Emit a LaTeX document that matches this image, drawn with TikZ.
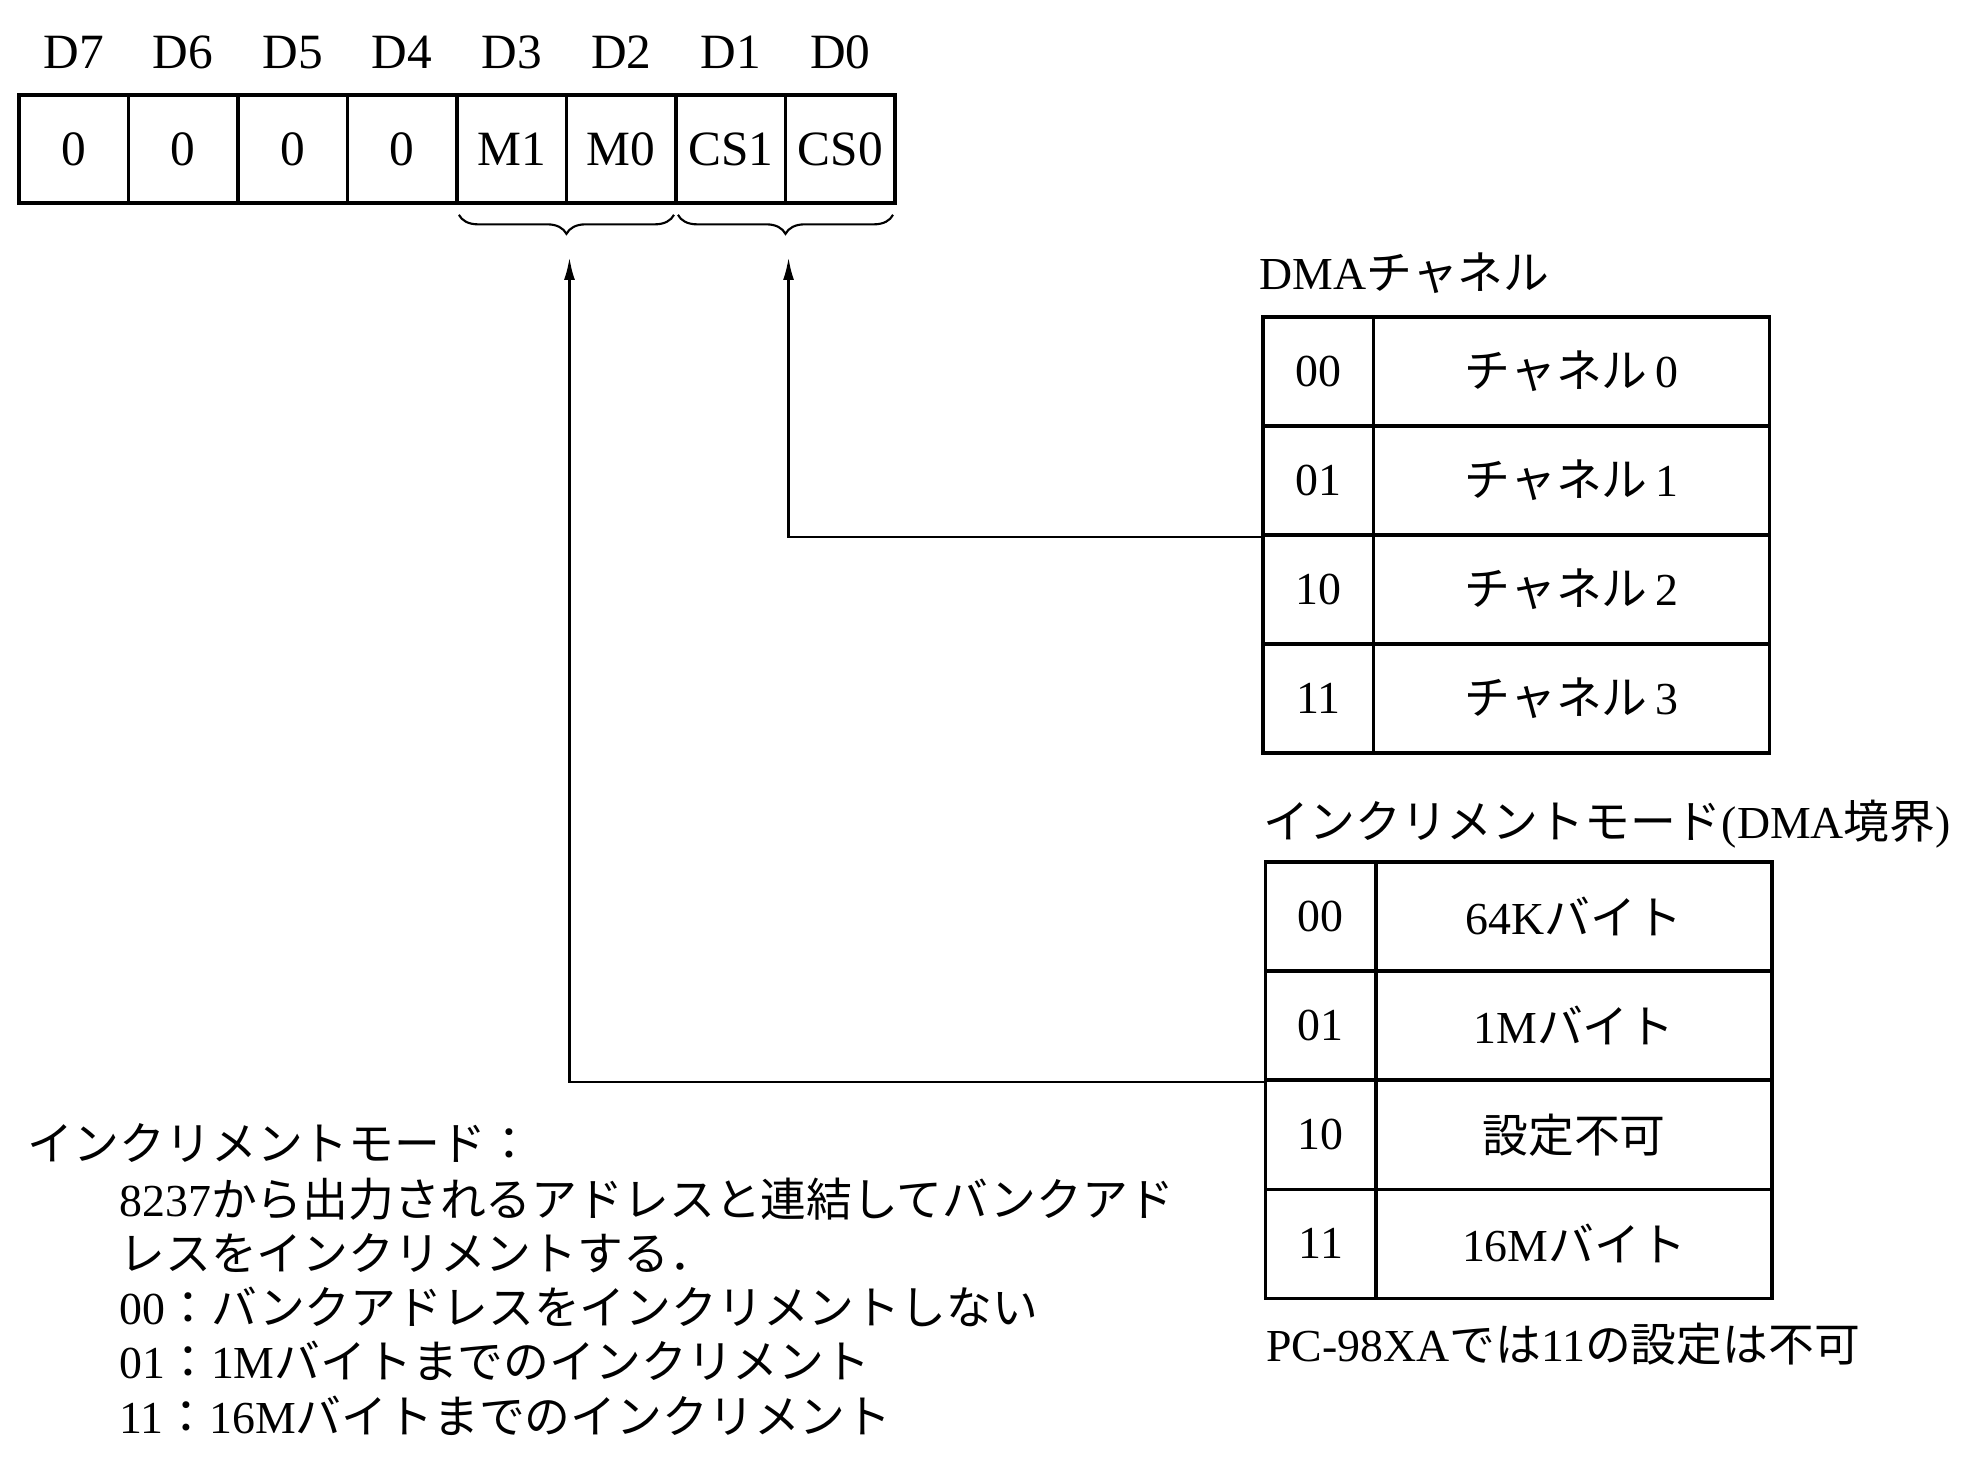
\documentclass[tikz,border=0pt]{standalone}
\usepackage{fontspec}
\setmainfont{Liberation Serif}
\newfontfamily\jpfont{Noto Sans CJK JP}
\usetikzlibrary{arrows.meta,decorations.pathreplacing}
\tikzset{
  bit/.style={draw,line width=2pt,minimum width=2.185cm,minimum height=2.15cm,inner sep=0pt,font=\fontsize{28pt}{32pt}\selectfont},
  code/.style={draw,line width=2pt,minimum width=2.2cm,minimum height=2.175cm,inner sep=0pt},
  desc/.style={draw,line width=2pt,minimum width=7.9cm,minimum height=2.175cm,inner sep=0pt},
  txt/.style={anchor=west,inner sep=0pt},
  brc/.style={decorate,decoration={brace,mirror,amplitude=0.38cm},line width=1.2pt},
  link/.style={line width=1.4pt,-{Latex[length=0.45cm,width=0.22cm]}}
}
\begin{document}
\begin{tikzpicture}[x=0.025cm,y=-0.025cm,font=\fontsize{26pt}{30pt}\selectfont]
\useasboundingbox (0,0) rectangle (1568,1176);
\foreach \lab [count=\i from 0] in {D7,D6,D5,D4,D3,D2,D1,D0}
  \node[font=\fontsize{28pt}{32pt}\selectfont] (h\i) at ({58.7+87.4*\i},42) {\lab};
\foreach \lab [count=\i from 0] in {0,0,0,0,M1,M0,CS1,CS0}
  \node[bit] (b\i) at ({58.7+87.4*\i},119) {\lab};
\draw[brc] ([shift={(3,8)}]b4.south west) -- ([shift={(-3,8)}]b5.south east);
\draw[brc] ([shift={(3,8)}]b6.south west) -- ([shift={(-3,8)}]b7.south east);
\coordinate (mtip) at ([shift={(1,42)}]b4.south east);
\coordinate (cstip) at ([shift={(1,42)}]b6.south east);

\node[txt] (dmat) at (1005,218) {DMA{\jpfont チャネル}};
\foreach \c/\t [count=\i from 0] in {00/0,01/1,10/2,11/3} {
  \node[code] (d\c) at (1052,{296.5+87*\i}) {\c};
  \node[desc] (dd\c) at (1254,{296.5+87*\i}) {{\jpfont チャネル}\,\t};
}
\node[txt] (inct) at (1008,658) {{\jpfont インクリメントモード}(DMA{\jpfont 境界})};
\foreach \c/\t [count=\i from 0] in {00/{64K{\jpfont バイト}},01/{1M{\jpfont バイト}},10/{{\jpfont 設定不可}},11/{16M{\jpfont バイト}}} {
  \node[code] (m\c) at (1054,{731.5+87*\i}) {\c};
  \node[desc] (mm\c) at (1256,{731.5+87*\i}) {\t};
}
\node[txt] (note) at (1010,1073) {PC-98XA{\jpfont では}11{\jpfont の設定は不可}};

\draw[link] (d01.south west) -| (cstip);
\draw[link] (m01.south west) -| (mtip);

\node[txt] (im) at (22,912) {{\jpfont インクリメントモード：}};
\node[txt] (l1) at (95,957) {8237{\jpfont から出力されるアドレスと連結してバンクアド}};
\node[txt] (l2) at (95,1000) {{\jpfont レスをインクリメントする．}};
\node[txt] (l3) at (95,1043) {00{\jpfont ：バンクアドレスをインクリメントしない}};
\node[txt] (l4) at (95,1086) {01{\jpfont ：}1M{\jpfont バイトまでのインクリメント}};
\node[txt] (l5) at (95,1130) {11{\jpfont ：}16M{\jpfont バイトまでのインクリメント}};
\end{tikzpicture}
\end{document}
